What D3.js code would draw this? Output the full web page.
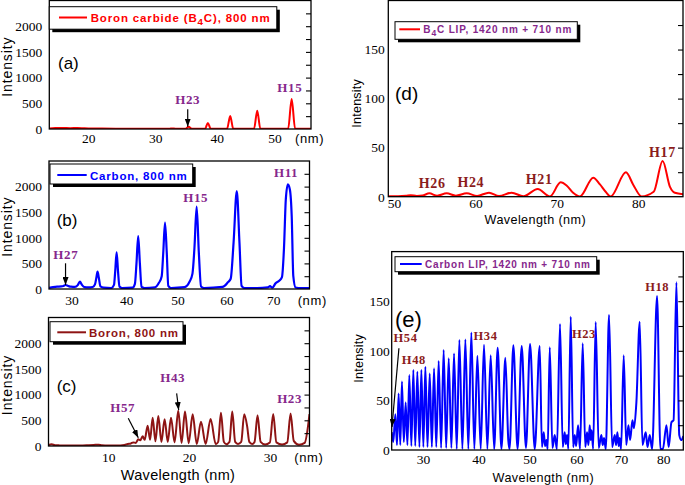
<!DOCTYPE html>
<html><head><meta charset="utf-8">
<script src="https://cdn.jsdelivr.net/npm/d3@7"></script>
<style>body{margin:0;background:#fff} svg{display:block}</style>
</head><body><svg id="c" width="685" height="485"></svg>
<script>
// ---------------- DATA (wavelength nm, intensity) ----------------
const boronCarbide800 = [[14.7,12],[15.5,18],[16.5,20],[17.5,16],[18.5,20],[19.5,14],[20.5,10],[22,8],[24,6],[27,5],[30,5],[32.2,5],[32.72,12],[33.2,5],[34.85,5],[35.35,45],[35.85,5],[38.05,5],[38.52,117],[39.0,5],[41.75,5],[42.29,253],[42.8,5],[46.4,5],[46.96,356],[47.5,5],[52.45,6],[53.08,584],[53.7,6],[56.6,5]];
const carbon800 = [[26.1,20],[26.8,35],[27.5,45],[28.2,50],[28.6,60],[28.95,78],[29.4,60],[29.9,45],[30.6,40],[31.1,75],[31.48,143],[31.85,80],[32.3,35],[33.0,30],[33.8,40],[34.2,90],[34.45,220],[34.67,338],[34.9,220],[35.2,50],[35.8,25],[37.2,20],[37.7,80],[37.93,350],[38.19,717],[38.45,350],[38.72,50],[39.2,20],[41.2,25],[41.65,100],[41.95,500],[42.28,1035],[42.6,500],[42.92,40],[43.5,20],[45.5,30],[46.3,120],[46.85,250],[47.15,700],[47.5,1295],[47.85,700],[48.15,60],[48.7,20],[51.4,35],[52.4,140],[53.0,300],[53.4,800],[53.85,1607],[54.3,700],[54.75,50],[55.4,20],[59.2,40],[60.3,130],[60.9,200],[61.5,900],[62.18,1914],[62.75,900],[63.2,60],[63.8,20],[66.5,20],[68.8,30],[69.3,55],[69.8,25],[70.5,110],[71.3,160],[71.9,230],[72.35,800],[72.75,1750],[73.2,2045],[73.65,1940],[74.05,1420],[74.4,250],[74.9,30],[76,18],[78,20]];
const boron800 = [[2.6,20],[3.0,35],[3.4,15],[4,12],[5,10],[6.5,8],[7.6,15],[8.2,20],[8.8,25],[9.2,15],[10,10],[11,10],[12,20],[12.4,40],[12.8,50],[13.09,70],[13.4,60],[13.71,130],[13.95,110],[14.25,190],[14.5,120],[14.87,396],[15.17,120],[15.49,552],[15.83,90],[16.19,584],[16.57,80],[16.97,520],[17.36,80],[17.76,552],[18.2,70],[18.66,688],[19.07,60],[19.49,669],[19.95,55],[20.44,617],[20.95,40],[21.47,474],[22.05,40],[22.66,526],[23.3,35],[23.6,80],[23.94,649],[24.3,80],[24.6,35],[25.0,80],[25.34,669],[25.7,80],[26.05,40],[26.45,80],[26.82,617],[27.19,376],[27.45,80],[27.8,40],[28.1,80],[28.47,597],[28.85,80],[29.4,30],[30.0,70],[30.41,623],[30.8,70],[31.5,30],[32.15,70],[32.56,630],[32.95,100],[33.6,25],[34.3,60],[34.9,620]];
const b4cLIP = [[49.3,0.5],[50.5,0.5],[51.5,1.0],[52.05,1.6],[52.8,0.8],[53.5,1.2],[54.34,3.4],[55.3,1.0],[56.47,3.4],[57.6,1.0],[58.93,3.4],[60.2,0.8],[61.67,4.1],[62.9,0.6],[64.45,4.1],[65.9,0.4],[67.65,7.9],[69.16,0.3],[70.47,14.7],[71.2,11.5],[72.0,4],[72.84,0.3],[74.48,19.4],[75.3,12.5],[76.0,5],[76.61,0.3],[78.49,24.9],[79.4,12],[80.41,0.3],[81.9,5],[83.0,36.4],[83.9,10],[84.5,4],[85.5,2.6]];
const carbonLIP = [[24.85,18],[25.1,8],[25.43,36],[25.7,5],[25.96,57],[26.23,5],[26.50,69],[26.8,8],[27.11,48],[27.4,5],[27.71,75.5],[28.05,4],[28.38,80.6],[28.7,4],[29.05,79],[29.4,3],[29.73,80.6],[30.07,3],[30.41,84],[30.78,3],[31.16,77],[31.53,3],[31.91,82.3],[32.3,3],[32.72,89.7],[33.15,2],[33.60,100.8],[34.05,2],[34.50,92.5],[34.98,2],[35.46,97.4],[35.95,1],[36.43,110.9],[36.98,1],[37.53,111.5],[38.08,1],[38.64,118.5],[39.2,1],[39.77,95],[40.4,1],[41.03,106],[41.67,1],[42.31,95.5],[42.98,1],[43.66,103],[44.4,1],[45.17,93],[45.75,10],[46.0,1],[46.76,105.5],[47.6,1],[48.44,104.9],[49.3,2],[50.14,106.9],[51.1,1],[52.13,104.9],[52.6,3],[52.97,18],[53.25,4],[53.53,10],[53.8,1],[54.23,103.5],[54.8,2],[55.28,15],[55.75,1],[56.41,127],[57.0,3],[57.42,18],[57.65,6],[57.93,15],[58.2,1],[58.72,134.4],[59.25,3],[59.59,15],[59.9,4],[60.32,25],[60.75,1],[61.34,107.5],[61.9,3],[62.30,18],[62.6,5],[62.89,25],[63.1,10],[63.33,20],[63.65,1],[64.22,129],[64.9,2],[65.50,15],[65.8,5],[66.11,12],[66.5,1],[67.24,136.1],[67.95,3],[68.54,15],[68.85,5],[69.15,18],[69.45,4],[69.69,12],[70.0,1],[70.61,95.4],[71.2,5],[71.70,25],[72.1,10],[72.64,30],[73.0,22],[73.57,48],[74.35,129.4],[75.0,5],[75.78,18],[76.2,3],[76.74,15],[77.3,1],[78.49,155.2],[79.3,1],[79.9,1],[80.76,25],[81.3,3],[81.98,28],[82.5,30],[83.20,169],[83.9,15],[84.4,10],[84.9,14]];

const xTicksA = [20,30,40,50];
const xTicksB = [30,40,50,60,70];
const xTicksC = [10,20,30];
const xTicksD = [50,60,70,80];
const xTicksE = [30,40,50,60,70,80];
const yTicks800 = [0,500,1000,1500,2000];
const yTicksLIP = [0,50,100,150];

const harmonicsA = [["H23",35.2,486],["H15",52.75,714]];
const harmonicsB = [["H27",29.0,580],["H15",53.65,1705],["H11",72.8,2193]];
const harmonicsC = [["H57",11.79,667],["H43",17.97,1239],["H23",32.44,842]];
const harmonicsD = [["H26",54.69,8.6],["H24",59.43,9.4],["H21",67.83,12.7],["H17",82.97,40.8]];
const harmonicsE = [["H54",27.08,108.6],["H48",28.47,86.7],["H34",41.31,110.9],["H23",61.6,112.6],["H18",78.52,160.3]];
const arrowsA = [[35.2,383,35.2,45]];
const arrowsB = [[28.95,502,28.95,78]];
const arrowsC = [[12.47,539,13.71,161],[18.46,1025,18.71,700]];
const arrowsE = [[26.01,102.5,24.89,23.2]];

// ---------------- DRAWING ----------------
const svg = d3.select('#c');
const SERIF = '"Liberation Serif","Times New Roman",serif';
const SANS = '"Liberation Sans",Arial,sans-serif';
const PURPLE = '#86278c', DKRED = '#8b1c1c', BORON = '#8e1414';

const defs = svg.append('defs');
defs.append('marker').attr('id','arr').attr('viewBox','0 0 8 6').attr('refX',8).attr('refY',3)
  .attr('markerWidth',8).attr('markerHeight',6).attr('markerUnits','userSpaceOnUse').attr('orient','auto')
  .append('path').attr('d','M0,0L8,3L0,6Z').attr('fill','#000');

function panel(p){
  const g = svg.append('g');
  const x = p.x, y = p.y;
  const [x0,x1] = x.range(), [yb,yt] = y.range();
  defs.append('clipPath').attr('id','cl'+p.id).append('rect')
    .attr('x',x0).attr('y',yt).attr('width',x1-x0).attr('height',yb-yt);

  g.append('path').datum(p.data).attr('clip-path',`url(#cl${p.id})`)
    .attr('fill','none').attr('stroke',p.color).attr('stroke-width',p.lw).attr('stroke-linejoin','round')
    .attr('d', d3.line().x(d=>x(d[0])).y(d=>y(d[1])).curve(d3.curveMonotoneX));

  const ra = g.append('g').attr('transform',`translate(${x1},0)`)
    .call(d3.axisLeft(y).tickValues(d3.range(p.minor, y.domain()[1], p.minor)).tickSize(5).tickFormat(''));
  ra.select('.domain').remove();
  ra.selectAll('line').attr('stroke','#000').attr('stroke-width',1.1);

  const ya = g.append('g').attr('transform',`translate(${x0},0)`)
    .call(d3.axisLeft(y).tickValues(p.yTicks).tickSize(0).tickPadding(p.yPad).tickFormat(d3.format('d')));
  ya.select('.domain').remove();
  ya.selectAll('text').attr('font-family',SERIF).attr('font-size',13.5).attr('fill','#000');

  const xa = g.append('g').attr('transform',`translate(0,${yb})`)
    .call(d3.axisBottom(x).tickValues(p.xTicks).tickSize(0).tickPadding(p.xPad).tickFormat(d3.format('d')));
  xa.select('.domain').remove();
  xa.selectAll('text').attr('font-family',SERIF).attr('font-size',13.5).attr('fill','#000');

  g.append('rect').attr('x',x0).attr('y',yt).attr('width',x1-x0).attr('height',yb-yt)
    .attr('fill','none').attr('stroke','#000').attr('stroke-width',1.3);

  g.selectAll('text.h').data(p.harm).join('text').attr('class','h')
    .attr('x',d=>x(d[1])).attr('y',d=>y(d[2])).attr('text-anchor','middle')
    .attr('font-family',SERIF).attr('font-weight','bold').attr('font-size',p.hfs)
    .attr('letter-spacing',0.6).attr('fill',p.hcolor).text(d=>d[0]);
  g.selectAll('line.ar').data(p.arrows||[]).join('line').attr('class','ar')
    .attr('x1',d=>x(d[0])).attr('y1',d=>y(d[1])).attr('x2',d=>x(d[2])).attr('y2',d=>y(d[3]))
    .attr('stroke','#000').attr('stroke-width',1.2).attr('marker-end','url(#arr)');

  const L = p.leg;
  g.append('rect').attr('x',L.x+3).attr('y',L.y+3).attr('width',L.w).attr('height',L.h).attr('fill','#000');
  g.append('rect').attr('x',L.x).attr('y',L.y).attr('width',L.w).attr('height',L.h)
    .attr('fill','#fff').attr('stroke','#000').attr('stroke-width',1);
  g.append('line').attr('x1',L.lx0).attr('x2',L.lx1).attr('y1',L.ly).attr('y2',L.ly)
    .attr('stroke',p.color).attr('stroke-width',2);
  const t = g.append('text').attr('x',L.tx).attr('y',L.ty).attr('font-family',SANS).attr('font-weight','bold')
    .attr('font-size',L.fs).attr('fill',L.color).attr('textLength',L.tl).attr('lengthAdjust','spacing');
  L.parts.forEach(pt=>{
    const s = t.append('tspan').text(pt[0]);
    if(pt[1]==='sub') s.attr('dy',L.fs*0.3).attr('font-size',L.fs*0.85);
    if(pt[1]==='up') s.attr('dy',-L.fs*0.3);
  });

  g.append('text').attr('x',p.letter[0]).attr('y',p.letter[1]).attr('font-family',SANS)
    .attr('font-size',p.letter[2]).attr('fill','#000').text(p.letter[3]);

  g.append('text').attr('transform',`translate(${p.yt[0]},${p.yt[1]}) rotate(-90)`).attr('text-anchor','middle')
    .attr('font-family',SANS).attr('font-size',p.yt[2]).attr('letter-spacing',p.yt[3]).attr('fill','#000').text('Intensity');

  if(p.unit) g.append('text').attr('x',p.unit[0]).attr('y',p.unit[1]).attr('font-family',SANS)
    .attr('font-size',13).attr('letter-spacing',0.6).attr('fill','#000').text('(nm)');
  if(p.xt) g.append('text').attr('x',p.xt[0]).attr('y',p.xt[1]).attr('text-anchor','middle')
    .attr('font-family',SANS).attr('font-size',p.xt[2]).attr('letter-spacing',p.xt[3]).attr('fill','#000').text('Wavelength (nm)');
}

panel({id:'a', data:boronCarbide800, color:'#ff0000', lw:2,
  x:d3.scalePow().exponent(0.75).domain([14.7,56.6]).range([49.3,311]),
  y:d3.scaleLinear().domain([0,2500]).range([129,0.5]),
  xTicks:xTicksA, yTicks:yTicks800, minor:250, yPad:7, xPad:4.5,
  harm:harmonicsA, hcolor:PURPLE, hfs:13, arrows:arrowsA,
  leg:{x:49.3,y:6.7,w:227.5,h:22.5,lx0:59,lx1:87,ly:17.5,tx:90.7,ty:22,fs:11.5,tl:179,color:'#ff0000',
       parts:[['Boron carbide (B'],['4','sub'],['C), 800 nm','up']]},
  letter:[58,69,17,'(a)'], yt:[12,66.7,14,0.9], unit:[295,143]});

panel({id:'b', data:carbon800, color:'#0000ff', lw:2.2,
  x:d3.scalePow().exponent(0.75).domain([26.1,78.0]).range([49,309.5]),
  y:d3.scaleLinear().domain([0,2500]).range([289,161]),
  xTicks:xTicksB, yTicks:yTicks800, minor:250, yPad:7, xPad:6.5,
  harm:harmonicsB, hcolor:PURPLE, hfs:13, arrows:arrowsB,
  leg:{x:50,y:164,w:142.7,h:20,lx0:57.3,lx1:86.7,ly:175,tx:90,ty:179.5,fs:11.5,tl:96.7,color:'#0000ff',
       parts:[['Carbon, 800 nm']]},
  letter:[56.7,225.5,17,'(b)'], yt:[12,226.7,14,0.9], unit:[297.7,305]});

panel({id:'c', data:boron800, color:BORON, lw:2,
  x:d3.scaleLinear().domain([2.6,34.9]).range([48.5,309.5]),
  y:d3.scaleLinear().domain([0,2500]).range([446,317.5]),
  xTicks:xTicksC, yTicks:yTicks800, minor:250, yPad:7, xPad:6.5,
  harm:harmonicsC, hcolor:PURPLE, hfs:13, arrows:arrowsC,
  leg:{x:50,y:321.7,w:133,h:20,lx0:57.3,lx1:86,ly:332.3,tx:89,ty:336.7,fs:11.5,tl:89,color:BORON,
       parts:[['Boron, 800 nm']]},
  letter:[56.7,392,17,'(c)'], yt:[12,385,14,0.9], unit:[294.3,462], xt:[178,479.5,14.5,0.3]});

panel({id:'d', data:b4cLIP, color:'#ff0000', lw:2,
  x:d3.scaleLinear().domain([49.3,85.5]).range([388.3,683]),
  y:d3.scaleLinear().domain([0,200]).range([196.7,0.5]),
  xTicks:xTicksD, yTicks:yTicksLIP, minor:25, yPad:3.5, xPad:2.2,
  harm:harmonicsD, hcolor:DKRED, hfs:14,
  leg:{x:395,y:21.7,w:182.3,h:17.6,lx0:399.3,lx1:420,ly:29.3,tx:423.3,ty:33.3,fs:10,tl:148,color:PURPLE,
       parts:[['B'],['4','sub'],['C LIP, 1420 nm + 710 nm','up']]},
  letter:[395,100,19,'(d)'], yt:[360.5,103.3,12.5,0.25], xt:[535.3,223.5,12.6,0.4]});

panel({id:'e', data:carbonLIP, color:'#0000ff', lw:2,
  x:d3.scalePow().exponent(0.64).domain([24.85,84.9]).range([391.7,683.3]),
  y:d3.scaleLinear().domain([0,200]).range([450,251.6]),
  xTicks:xTicksE, yTicks:yTicksLIP, minor:25, yPad:2, xPad:4.5,
  harm:harmonicsE, hcolor:DKRED, hfs:12.5, arrows:arrowsE,
  leg:{x:395,y:256.7,w:201.7,h:15,lx0:400,lx1:421.7,ly:264,tx:425,ty:267.7,fs:10,tl:165,color:PURPLE,
       parts:[['Carbon LIP, 1420 nm + 710 nm']]},
  letter:[395,327,22,'(e)'], yt:[362.5,358.3,12.5,0.25], xt:[543.3,481.5,12.6,0.4]});
</script></body></html>
